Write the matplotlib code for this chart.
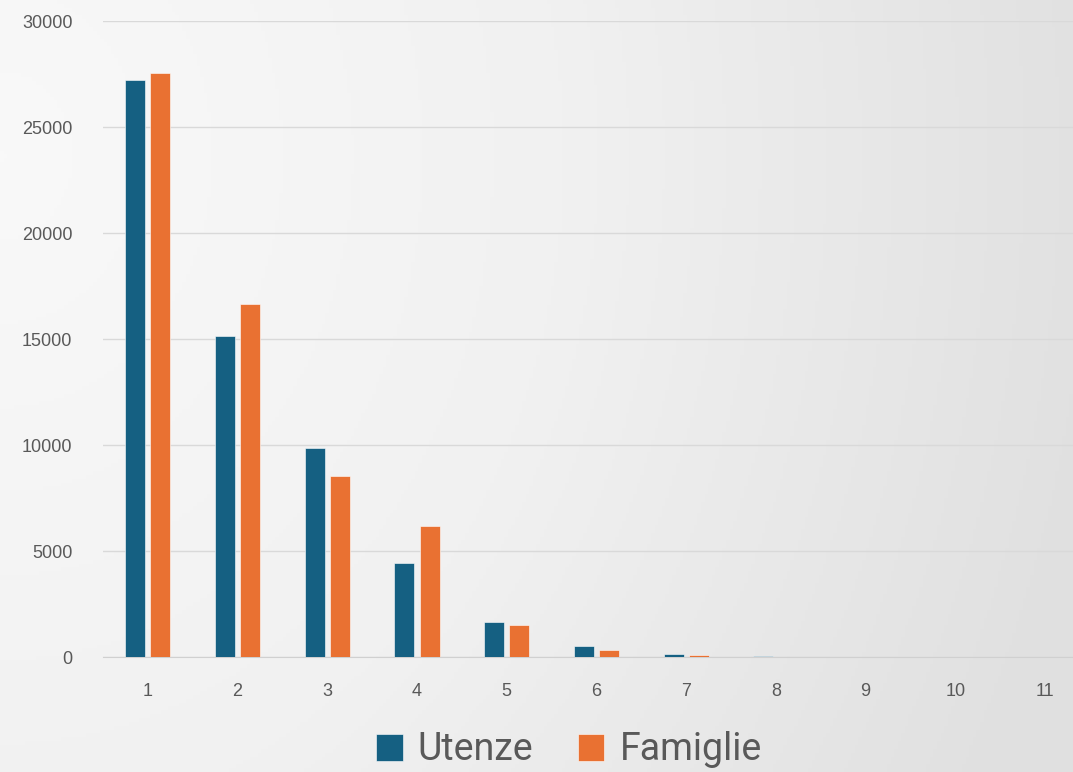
import numpy as np
import matplotlib
matplotlib.use("Agg")
import matplotlib.pyplot as plt
from matplotlib.colors import LinearSegmentedColormap

categories = [1, 2, 3, 4, 5, 6, 7, 8, 9, 10, 11]
utenze = [27200, 15150, 9850, 4430, 1650, 520, 130, 40, 5, 2, 1]
famiglie = [27550, 16650, 8540, 6180, 1520, 330, 80, 10, 2, 1, 0]

blue = "#156082"
orange = "#e97132"
grey_txt = "#595959"

fig = plt.figure(figsize=(10.73, 7.72), dpi=100)

# background gradient
bg = fig.add_axes([0, 0, 1, 1], zorder=-10)
yy, xx = np.mgrid[0:1:200j, 0:1:300j]
r = np.sqrt(xx ** 2 + ((yy - 0.8) * 0.6) ** 2)
cm = LinearSegmentedColormap.from_list("bg", ["#f9f9f9", "#f1f1f1", "#e0e0e0"])
bg.imshow(r, cmap=cm, vmin=0, vmax=1.05, aspect="auto", extent=[0, 1, 0, 1], origin="lower")
bg.axis("off")

ax = fig.add_axes([103 / 1073, 115 / 772, 987 / 1073, 636 / 772])
ax.patch.set_alpha(0)

x = np.array(categories)
w = 0.223
off = 0.14
ax.bar(x - off, utenze, w, color=blue, edgecolor="white", linewidth=0.4, label="Utenze", zorder=3)
ax.bar(x + off, famiglie, w, color=orange, edgecolor="white", linewidth=0.4, label="Famiglie", zorder=3)

ax.set_xlim(0.5, 11.5)
ax.set_ylim(0, 30000)
ax.set_yticks(range(0, 30001, 5000))
ax.set_xticks(categories)
ax.grid(axis="y", color="#d9d9d9", linewidth=1, zorder=0)
for s in ["top", "right", "left"]:
    ax.spines[s].set_visible(False)
ax.spines["bottom"].set_color("#d0d0d0")
ax.tick_params(length=0, labelsize=13, labelcolor=grey_txt)
ax.tick_params(axis="x", pad=19)
ax.tick_params(axis="y", pad=22)
for t in ax.get_xticklabels() + ax.get_yticklabels():
    t.set_family(["Liberation Sans", "DejaVu Sans"])

leg = fig.legend(loc="center", bbox_to_anchor=(569 / 1073, 22 / 772), ncol=2, frameon=False,
                 prop={"family": ["Liberation Sans Narrow", "Roboto", "DejaVu Sans"], "size": 27},
                 handlelength=0.7, handleheight=0.7, handletextpad=0.4, columnspacing=1.2,
                 labelcolor=grey_txt, borderpad=0)

fig.savefig("out.png", dpi=100)
